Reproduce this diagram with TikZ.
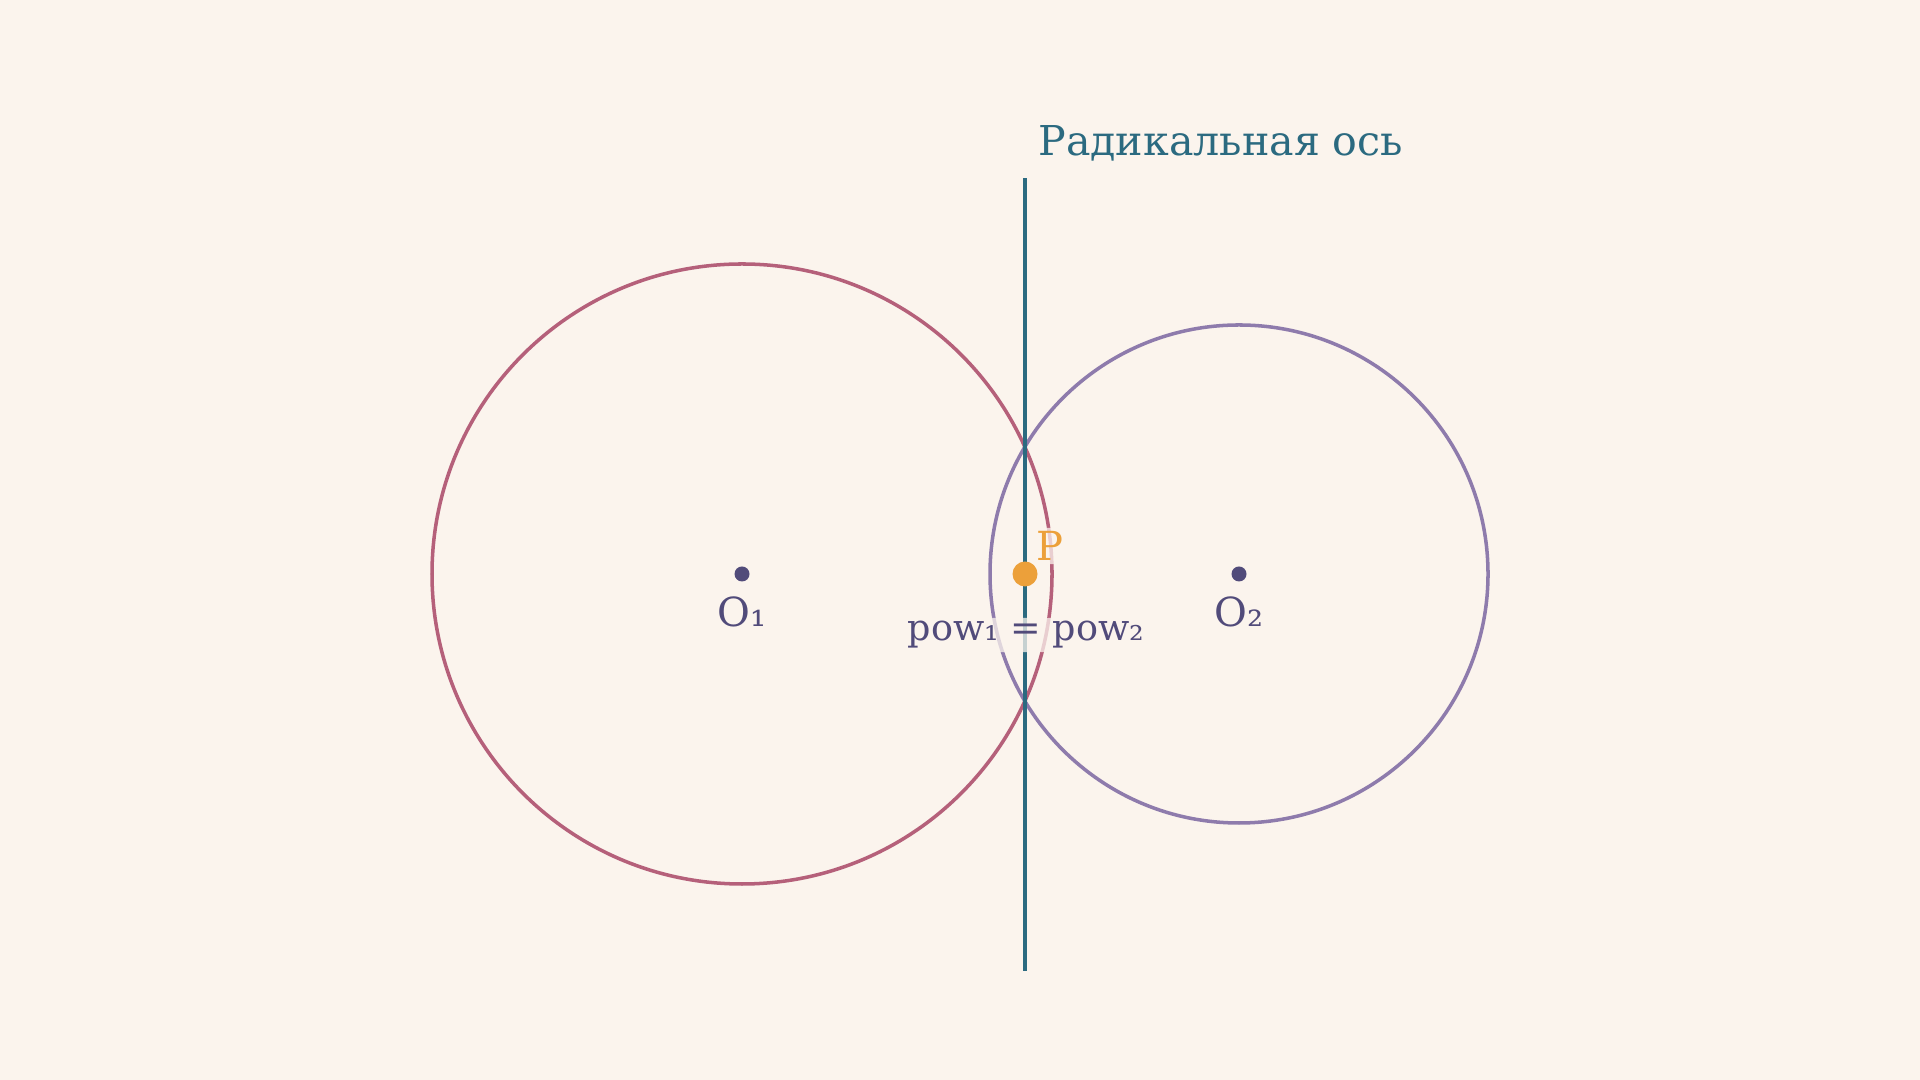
\documentclass[tikz,border=0pt]{standalone}
\usepackage{fontspec}
\setmainfont{DejaVu Serif}
\usepackage{xcolor}
\definecolor{bg}{HTML}{FBF4ED}
\definecolor{rose}{HTML}{B5607A}
\definecolor{lilac}{HTML}{8E7BAC}
\definecolor{teal}{HTML}{2B6A80}
\definecolor{amber}{HTML}{ECA03A}
\definecolor{ink}{HTML}{514B7A}

\begin{document}
\begin{tikzpicture}[
		lbl/.style={font=\fontsize{11.4}{13}\selectfont, text=ink, fill=bg, fill opacity=0.75, text opacity=1, inner sep=1pt, rounded corners=2pt},
		centre/.style={circle, fill=ink, inner sep=0pt, minimum size=0.15cm}
	]
				\fill[bg] (0,0) rectangle (19.2,10.8);
				\useasboundingbox (0,0) rectangle (19.2,10.8);
				
				\node(C1) at (7.42,5.06)[circle,draw=rose,line width=1pt,minimum size=6.2cm]{};
				\node(C2) at (12.39,5.06)[circle,draw=lilac,line width=1pt,minimum size=4.98cm]{};
				
				\coordinate(T) at (10.25,9.02);
				\coordinate(B) at (10.25,1.09);
				\draw[teal, line width=1.1pt] (B) to (T);
				
				\node(O1) at (7.42,5.06)[centre]{};
				\node(O2) at (12.39,5.06)[centre]{};
				\node(P) at (10.25,5.06)[circle,fill=amber,inner sep=0pt,minimum size=0.25cm]{};
				
				\node(L1) at (7.42,4.68)[lbl]{O₁};
				\node(L2) at (12.39,4.68)[lbl]{O₂};
				\node(LP) at (10.50,5.34)[lbl, text=amber]{P};
				\node(Pow) at (10.26,4.45)[lbl, font=\fontsize{10.4}{12}\selectfont]{pow₁ = pow₂};
				\node(Ax) at (10.26,9.37)[anchor=west, font=\fontsize{11.7}{13}\selectfont, text=teal]{Радикальная ось};
			\end{tikzpicture}
\end{document}
